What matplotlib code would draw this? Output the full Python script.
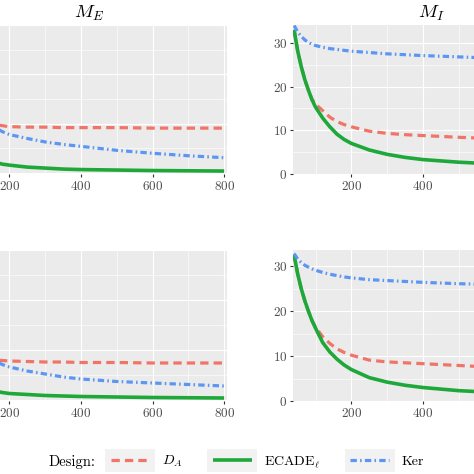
import numpy as np
import matplotlib
matplotlib.use('Agg')
import matplotlib.pyplot as plt
from matplotlib.lines import Line2D
from matplotlib.patches import Rectangle
from matplotlib.ticker import MultipleLocator, FixedLocator

plt.rcParams['font.family'] = 'cmr10'
plt.rcParams['mathtext.fontset'] = 'cm'
plt.rcParams['axes.formatter.use_mathtext'] = True

# sample sizes
n = [40, 50, 60, 70, 80, 90, 100, 120, 140, 160, 180, 200, 250, 300, 350, 400, 500, 600, 700, 800]

# M_E, top row
me_top_da = [2.9, 2.3, 1.9, 1.6, 1.4, 1.27, 1.18, 1.07, 1.01, 0.98, 0.96, 0.94, 0.93, 0.93, 0.92, 0.92, 0.92, 0.91, 0.91, 0.91]
me_top_ecade = [2.9, 2.1, 1.6, 1.2, 0.92, 0.72, 0.57, 0.40, 0.29, 0.22, 0.18, 0.16, 0.12, 0.10, 0.08, 0.07, 0.06, 0.05, 0.045, 0.04]
me_top_ker = [2.9, 2.5, 2.2, 1.9, 1.7, 1.5, 1.38, 1.18, 1.03, 0.92, 0.84, 0.78, 0.70, 0.63, 0.58, 0.54, 0.46, 0.40, 0.35, 0.31]

# M_I, top row
mi_top_da = [33.0, 28.2, 24.6, 21.6, 19.2, 17.1, 16.0, 14.5, 13.0, 12.0, 11.3, 10.8, 9.8, 9.3, 9.0, 8.8, 8.4, 8.1, 7.9, 7.8]
mi_top_ecade = [33.0, 28.2, 24.6, 21.6, 19.2, 17.0, 15.3, 12.8, 10.8, 9.1, 7.9, 7.0, 5.5, 4.5, 3.8, 3.3, 2.7, 2.3, 2.0, 1.8]
mi_top_ker = [34.0, 32.5, 31.5, 30.7, 30.1, 29.7, 29.4, 29.0, 28.7, 28.5, 28.3, 28.1, 27.8, 27.5, 27.3, 27.1, 26.8, 26.5, 26.3, 26.1]

# M_E, bottom row
me_bot_da = [2.9, 2.2, 1.75, 1.45, 1.22, 1.08, 0.98, 0.88, 0.83, 0.80, 0.79, 0.78, 0.77, 0.76, 0.76, 0.75, 0.75, 0.74, 0.74, 0.74]
me_bot_ecade = [2.9, 2.0, 1.5, 1.1, 0.85, 0.65, 0.50, 0.33, 0.24, 0.18, 0.15, 0.13, 0.11, 0.09, 0.08, 0.07, 0.06, 0.05, 0.045, 0.04]
me_bot_ker = [2.9, 2.4, 2.0, 1.72, 1.5, 1.33, 1.2, 1.0, 0.87, 0.78, 0.71, 0.66, 0.58, 0.52, 0.46, 0.42, 0.37, 0.34, 0.31, 0.28]

# M_I, bottom row
mi_bot_da = [32.5, 28.3, 25.0, 22.3, 20.0, 17.9, 16.4, 14.3, 12.8, 11.6, 10.8, 10.2, 9.1, 8.7, 8.5, 8.3, 7.9, 7.5, 7.3, 7.2]
mi_bot_ecade = [32.5, 28.3, 25.0, 22.3, 20.0, 17.9, 16.2, 13.0, 10.9, 9.3, 8.0, 7.0, 5.2, 4.2, 3.5, 3.0, 2.3, 1.9, 1.6, 1.4]
mi_bot_ker = [32.8, 31.6, 30.8, 30.2, 29.8, 29.4, 29.1, 28.6, 28.2, 27.9, 27.6, 27.4, 27.0, 26.8, 26.6, 26.4, 26.1, 25.9, 25.7, 25.6]

designs = [r'$D_A$', r'ECADE$_\ell$', 'Ker']
colors = ['#F07468', '#1FA83A', '#5C96F5']
styles = [dict(dashes=(2.6, 1.6), lw=2.3), dict(ls='-', lw=2.6), dict(dashes=(2.0, 1.0, 0.5, 1.0), lw=2.3)]

fig = plt.figure(figsize=(4.74, 4.74), dpi=100)

W = 276 / 474
panels = [
    ([-49 / 474, 300 / 474, W, 149 / 474], [me_top_da, me_top_ecade, me_top_ker], (-0.02, 3.0), r'$M_E$', 'E'),
    ([293 / 474, 300 / 474, W, 149 / 474], [mi_top_da, mi_top_ecade, mi_top_ker], (0, 34.1), r'$M_I$', 'I'),
    ([-49 / 474, 73 / 474, W, 151 / 474], [me_bot_da, me_bot_ecade, me_bot_ker], (-0.02, 3.0), None, 'E'),
    ([293 / 474, 73 / 474, W, 151 / 474], [mi_bot_da, mi_bot_ecade, mi_bot_ker], (0, 33.6), None, 'I'),
]

for rect, series, ylim, title, kind in panels:
    ax = fig.add_axes(rect)
    ax.set_facecolor('#EBEBEB')
    for s in ax.spines.values():
        s.set_visible(False)
    for vals, c, st in zip(series, colors, styles):
        ax.plot(n, vals, color=c, solid_capstyle='butt', dash_capstyle='butt', **st)
    ax.set_xlim(37, 808)
    ax.set_ylim(*ylim)
    if kind == 'I':
        # 600 and 800 fall beyond the right edge of the cropped picture
        ax.xaxis.set_major_locator(FixedLocator([200, 400]))
        ax.xaxis.set_minor_locator(FixedLocator([100, 300, 500]))
        ax.yaxis.set_major_locator(MultipleLocator(10))
        ax.yaxis.set_minor_locator(MultipleLocator(5))
    else:
        ax.xaxis.set_major_locator(FixedLocator([200, 400, 600, 800]))
        ax.xaxis.set_minor_locator(FixedLocator([100, 300, 500, 700]))
        ax.yaxis.set_major_locator(MultipleLocator(1))
        ax.yaxis.set_minor_locator(MultipleLocator(0.5))
    ax.grid(which='major', color='white', lw=0.8)
    ax.grid(which='minor', color='white', lw=0.4)
    ax.set_axisbelow(True)
    ax.tick_params(which='major', length=2.2, width=0.8, color='#333333',
                   labelsize=9.5, labelcolor='#4D4D4D', pad=2)
    ax.tick_params(which='minor', length=0)
    if kind == 'E':
        # y labels of the left panels fall outside the cropped picture
        ax.tick_params(axis='y', labelleft=False)
    if title:
        ax.set_title(title, fontsize=13.5, pad=5)

handles = [Line2D([], [], color=c, solid_capstyle='butt', dash_capstyle='butt', **st)
           for c, st in zip(colors, styles)]
fig.text(72 / 474, 12 / 474, 'Design:', ha='center', va='center', fontsize=10.5)
leg = fig.legend(handles, designs, loc='center left', bbox_to_anchor=(111 / 474, 12 / 474),
                 ncol=3, frameon=False, fontsize=10, handlelength=2.8, handletextpad=0.9,
                 columnspacing=2.15, borderpad=0, borderaxespad=0)

fig.canvas.draw()
r = fig.canvas.get_renderer()
for h in leg.legend_handles:
    bb = h.get_window_extent(r)
    xc = (bb.x0 + bb.x1) / 2
    yc = (bb.y0 + bb.y1) / 2
    fig.add_artist(Rectangle(((xc - 25) / 474, (yc - 11.5) / 474), 50 / 474, 23 / 474,
                             transform=fig.transFigure, facecolor='#F2F2F2',
                             edgecolor='none', zorder=0))

fig.savefig('out.png', dpi=100)
